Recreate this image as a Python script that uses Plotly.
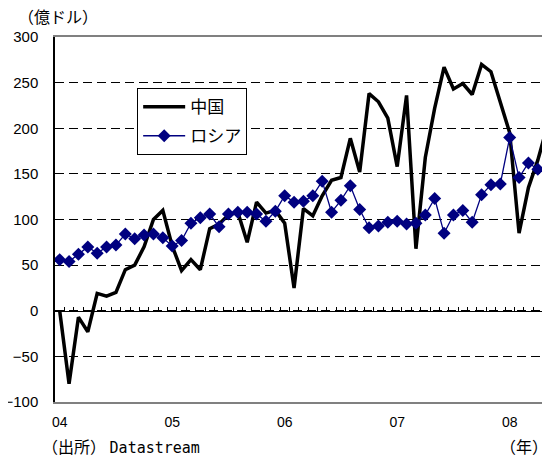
import plotly.graph_objects as go

# monthly, Jan 2004 .. May 2008 (index 0 = Jan 04)
china = [
    0, -80, -7, -23, 19, 16, 20, 45, 50, 70, 100, 110,
    71, 44, 56, 45, 90, 95, 105, 108, 75, 119, 107, 110,
    96, 25, 112, 104, 126, 143, 146, 189, 152, 238, 229, 211,
    158, 236, 68, 168, 222, 267, 243, 249, 237, 270, 262, 229,
    195, 85, 135, 165, 202,
]
russia = [
    56, 54, 62, 70, 63, 70, 72, 84, 79, 83, 84, 80,
    71, 77, 96, 102, 106, 92, 106, 108, 108, 106, 98, 109,
    126, 119, 120, 126, 142, 108, 121, 137, 111, 91, 93, 97,
    98, 95, 96, 105, 123, 85, 105, 110, 97, 127, 138, 139,
    190, 146, 162, 155,
]
year_ticks = [0, 12, 24, 36, 48]
year_labels = ["04", "05", "06", "07", "08"]
y_ticks = [-100, -50, 0, 50, 100, 150, 200, 250, 300]

JP = "Noto Sans CJK JP"
NUM = "Liberation Sans, Arial"
MONO = "DejaVu Sans Mono"

fig = go.Figure()

fig.add_trace(go.Scatter(
    x=list(range(len(china))), y=china,
    name="中国", mode="lines",
    line=dict(color="black", width=3.5),
    legendgroup="cn",
))
fig.add_trace(go.Scatter(
    x=list(range(len(russia))), y=russia,
    name="ロシア", mode="lines+markers",
    line=dict(color="#000080", width=1.3),
    marker=dict(symbol="diamond", size=10, color="#000080"),
    legendgroup="ru",
))

# zero line with monthly tick marks (between categories)
fig.add_trace(go.Scatter(
    x=[], y=[], xaxis="x2", showlegend=False,
))

# page body has an 8px margin, so the figure is 8px smaller than the window
fig.update_layout(
    width=542, height=451,
    margin=dict(l=47, r=0, t=29, b=57),
    paper_bgcolor="white", plot_bgcolor="white",
    showlegend=True,
    legend=dict(
        x=0.166, y=0.86, xanchor="left", yanchor="top",
        bgcolor="white", bordercolor="black", borderwidth=1,
        font=dict(family=JP, size=17, color="black"),
        tracegroupgap=4,
        itemwidth=42,
    ),
    xaxis=dict(
        range=[-0.5, 52.3],
        tickvals=year_ticks, ticktext=year_labels,
        ticks="", ticklabelstandoff=6,
        showgrid=False, zeroline=False,
        showline=True, linecolor="#808080", linewidth=2,
        mirror=True, automargin=False,
        tickfont=dict(family=NUM, size=14, color="black"),
    ),
    xaxis2=dict(
        overlaying="x", matches="x",
        anchor="free", position=0.25,
        tick0=-0.5, dtick=1,
        ticks="inside", ticklen=4, tickcolor="black", tickwidth=1,
        showticklabels=False, showgrid=False, zeroline=False,
        showline=True, linecolor="black", linewidth=1,
        automargin=False,
    ),
    yaxis=dict(
        range=[-100, 300],
        tickvals=y_ticks,
        showgrid=True, gridcolor="black", gridwidth=1, griddash="9px,5px",
        zeroline=False,
        showline=True, linecolor="black", linewidth=1.5,
        ticks="", ticklabelstandoff=12, automargin=False,
        tickfont=dict(family=NUM, size=15, color="black"),
    ),
)

fig.add_annotation(
    text="（億ドル）", xref="paper", yref="paper",
    x=-0.078, y=1.058, xanchor="left", yanchor="middle",
    showarrow=False, font=dict(family=JP, size=16, color="black"),
)
fig.add_annotation(
    text=f"（出所） <span style='font-family:{MONO};font-size:15px'>Datastream</span>",
    xref="paper", yref="paper",
    x=-0.03, y=-0.12, xanchor="left", yanchor="middle",
    showarrow=False, font=dict(family=JP, size=16, color="black"),
)
fig.add_annotation(
    text="（年）", xref="paper", yref="paper",
    x=1.0, y=-0.12, xanchor="right", yanchor="middle",
    showarrow=False, font=dict(family=JP, size=16, color="black"),
)

fig.write_html("out.html")
